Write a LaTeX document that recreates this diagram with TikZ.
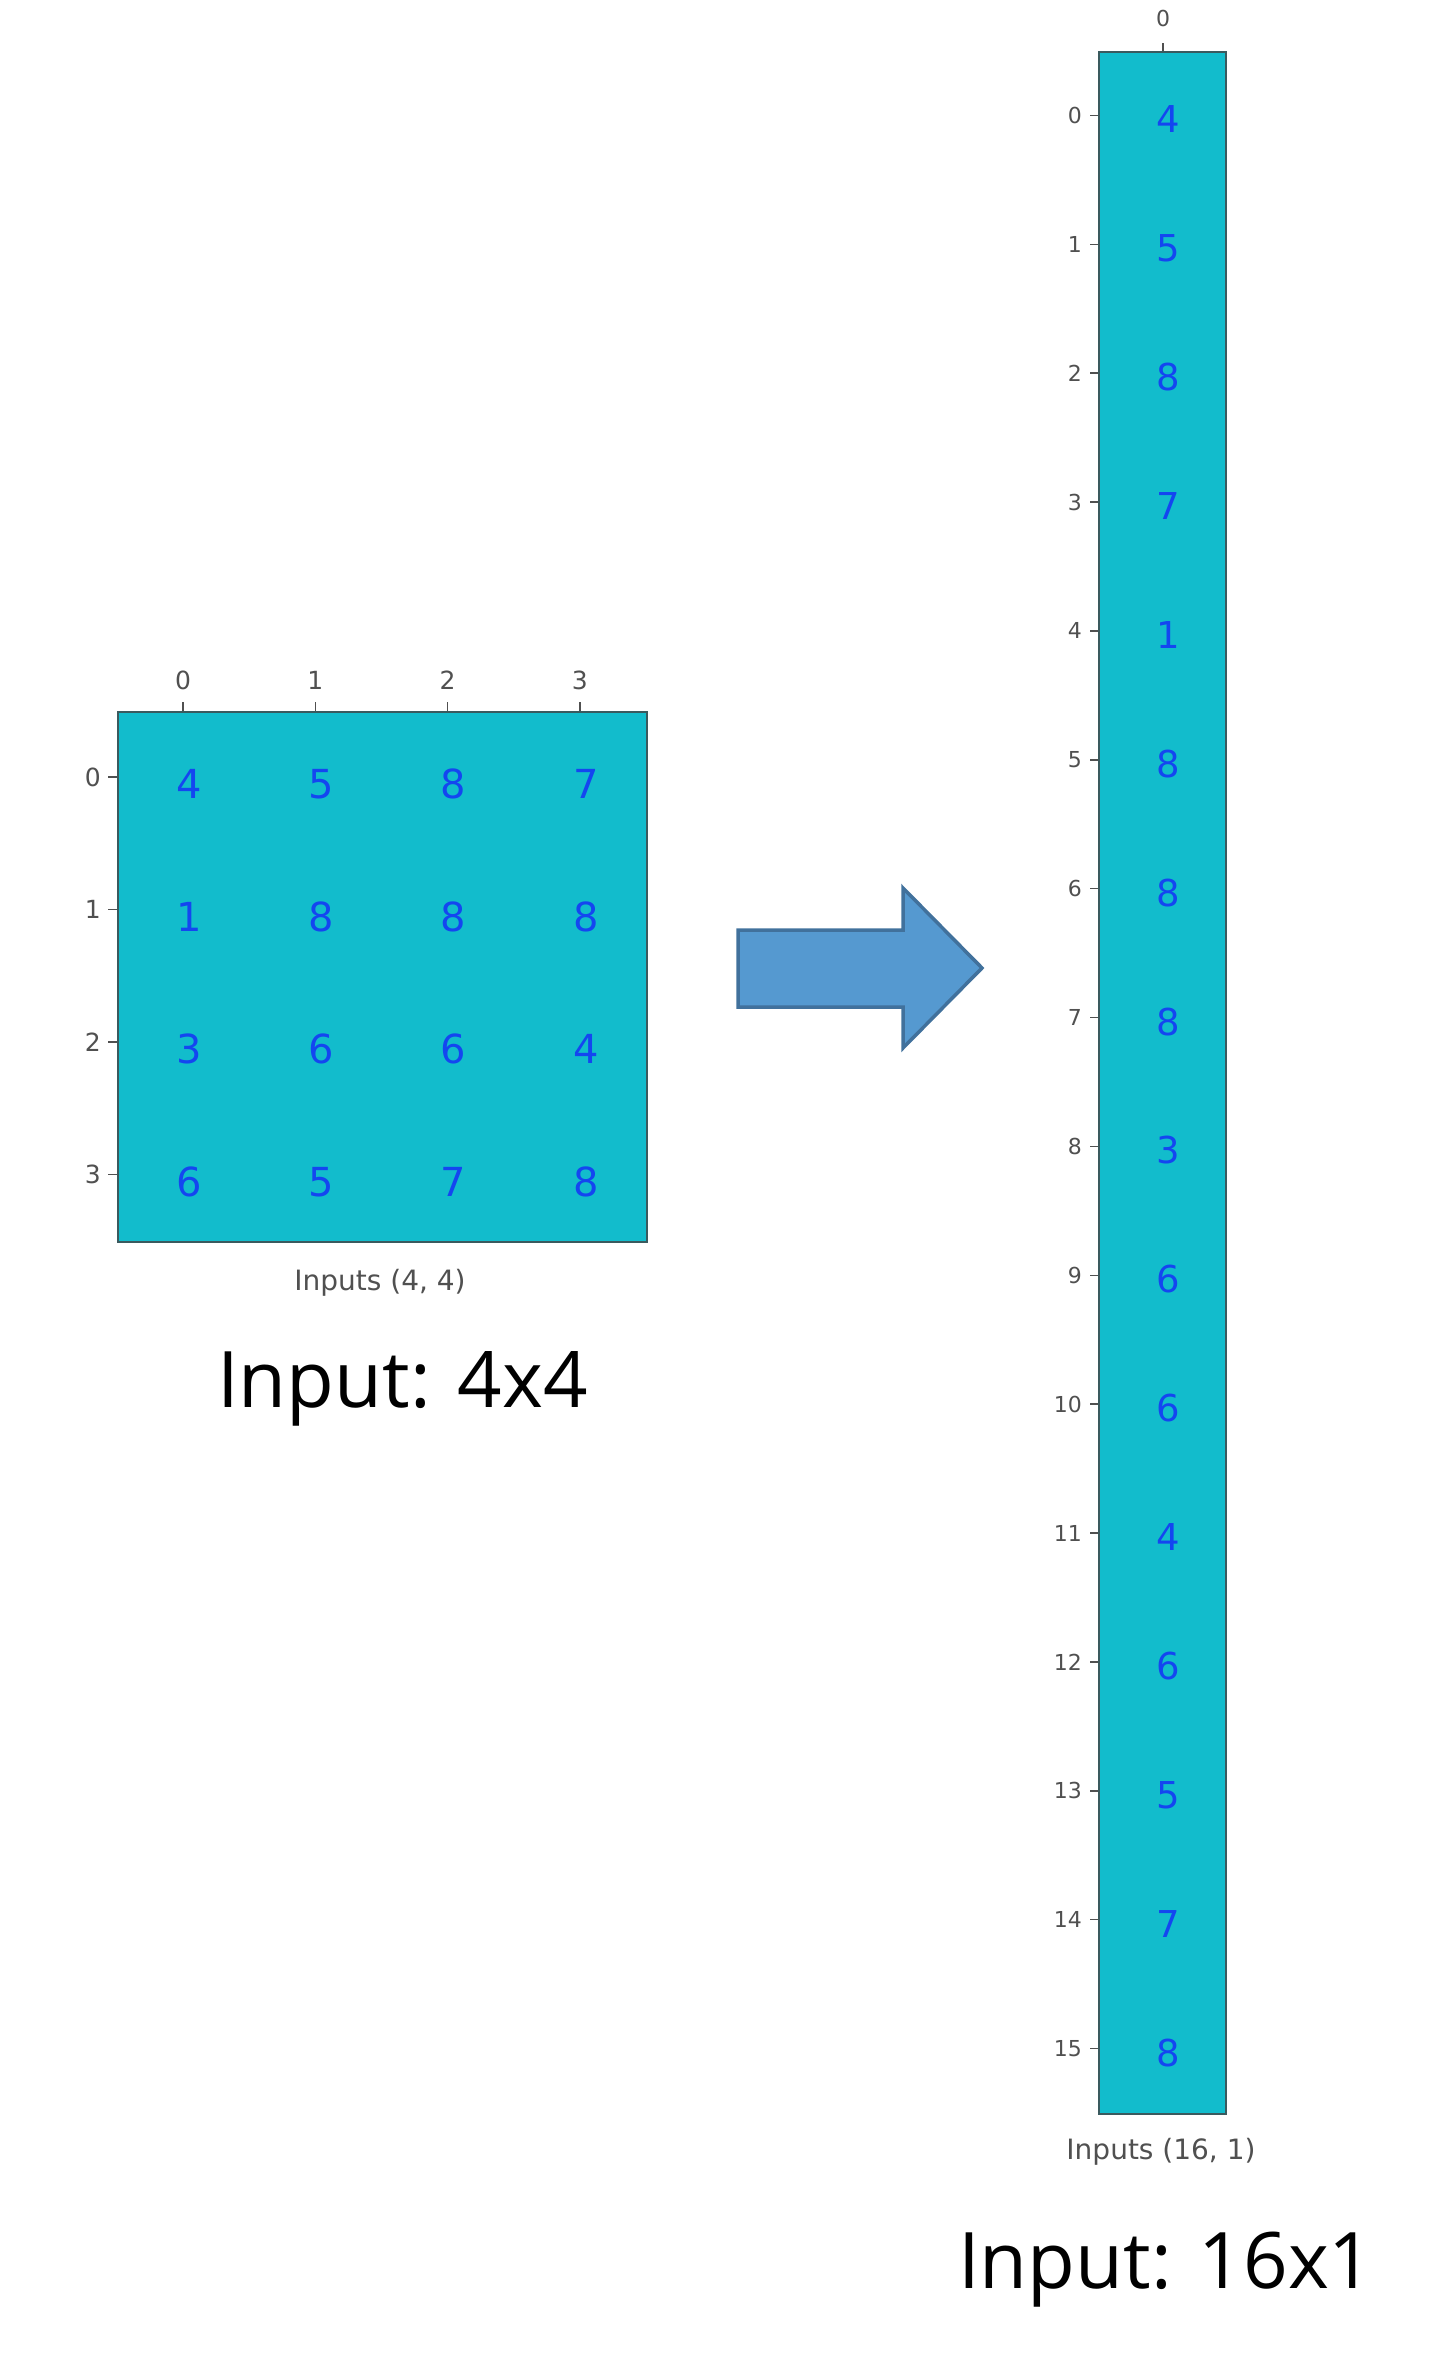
\documentclass[tikz,border=0pt]{standalone}
\usepackage{fontspec}
\newfontfamily\mplfont{DejaVu Sans}
\newfontfamily\captfont{Open Sans}
\definecolor{cellfill}{HTML}{12BCCC}
\definecolor{digitblue}{HTML}{1446F0}
\definecolor{tickgray}{HTML}{505050}
\definecolor{frameedge}{HTML}{3A5A5E}
\definecolor{arrowfill}{HTML}{5599D0}
\definecolor{arrowedge}{HTML}{41719C}
\tikzset{
  gridbox/.style={draw=frameedge, line width=2pt, fill=cellfill, inner sep=0pt, anchor=north west},
  digit/.style={text=digitblue, font=\mplfont\fontsize{40}{48}\selectfont, inner sep=0pt},
  digitsmall/.style={text=digitblue, font=\mplfont\fontsize{37}{44}\selectfont, inner sep=0pt},
  ticklab/.style={text=tickgray, font=\mplfont\fontsize{25}{30}\selectfont, inner sep=0pt},
  ticklabsmall/.style={text=tickgray, font=\mplfont\fontsize{22}{26}\selectfont, inner sep=0pt},
  tickmark/.style={draw=tickgray, line width=1.5pt},
  axlabel/.style={text=tickgray, font=\mplfont\fontsize{28}{34}\selectfont, inner sep=0pt},
  caption/.style={text=black, font=\captfont\fontsize{78}{90}\selectfont, inner sep=0pt, anchor=base west},
  blockarrow/.style={fill=arrowfill, draw=arrowedge, line width=3.5pt, line join=miter}
}
\begin{document}
\begin{tikzpicture}[x=1pt,y=-1pt]
\useasboundingbox (0,0) rectangle (1434,2355);

% ---------- left 4x4 matrix ----------
\node[gridbox, minimum width=529pt, minimum height=530pt] (sq) at (117,711) {};
\foreach \r/\vals in {0/{4,5,8,7},1/{1,8,8,8},2/{3,6,6,4},3/{6,5,7,8}}{
  \foreach \v [count=\ci from 0] in \vals {
    \pgfmathsetmacro{\cx}{117+66.1+132.25*\ci}
    \pgfmathsetmacro{\cy}{711+66.2+132.5*\r}
    \node[digit] (d-\r-\ci) at (\cx+6,\cy+7) {\v};
  }
}
\foreach \i in {0,1,2,3}{
  \pgfmathsetmacro{\cx}{117+66.1+132.25*\i}
  \pgfmathsetmacro{\cy}{711+66.2+132.5*\i}
  \coordinate (tt-\i) at (\cx,711);
  \coordinate (tte-\i) at (\cx,702);
  \draw[tickmark] (tt-\i) -- (tte-\i);
  \node[ticklab] (tl-top-\i) at (\cx,680) {\i};
  \coordinate (lt-\i) at (117,\cy);
  \coordinate (lte-\i) at (108,\cy);
  \draw[tickmark] (lt-\i) -- (lte-\i);
  \node[ticklab, anchor=east] (tl-left-\i) at (101,\cy) {\i};
}
\node[axlabel] (sqlab) at (380,1283) {Inputs (4, 4)};
\node[caption] (cap1) at (217,1407) {Input: 4x4};

% ---------- block arrow ----------
\draw[blockarrow] (738,930) -- (903,930) -- (903,888) -- (982,968) -- (903,1048) -- (903,1007) -- (738,1007) -- cycle;

% ---------- right 16x1 column ----------
\node[gridbox, minimum width=127pt, minimum height=2062pt] (col) at (1098,51) {};
\foreach \v [count=\k from 0] in {4,5,8,7,1,8,8,8,3,6,6,4,6,5,7,8}{
  \pgfmathsetmacro{\cy}{51+64.44+128.875*\k}
  \node[digitsmall] (c-\k) at (1168,\cy+4) {\v};
  \coordinate (rt-\k) at (1098,\cy);
  \coordinate (rte-\k) at (1090,\cy);
  \draw[tickmark] (rt-\k) -- (rte-\k);
  \node[ticklabsmall, anchor=east] (rl-\k) at (1082,\cy) {\k};
}
\coordinate (ct) at (1163,51);
\coordinate (cte) at (1163,43);
\draw[tickmark] (ct) -- (cte);
\node[ticklabsmall] (cl-top) at (1163,18) {0};
\node[axlabel] (collab) at (1161,2152) {Inputs (16, 1)};
\node[caption] (cap2) at (958,2288) {Input: 16x1};
\end{tikzpicture}
\end{document}
